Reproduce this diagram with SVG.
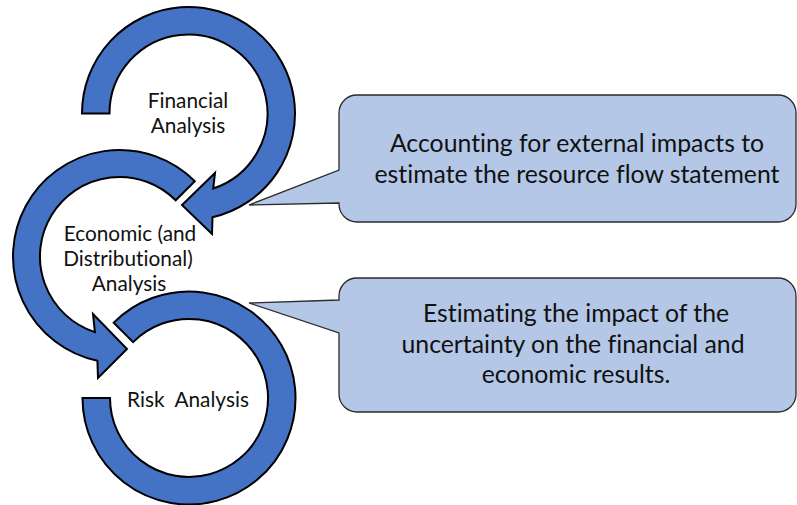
<svg xmlns="http://www.w3.org/2000/svg" width="797" height="505" viewBox="0 0 797 505">
  <style>
    .arrow { fill: #4472C4; stroke: #000000; stroke-width: 2; stroke-linejoin: miter; }
    .callout { fill: #B4C7E7; stroke: #2B2B2B; stroke-width: 1.3; stroke-linejoin: miter; }
    .lbl { font-family: Lato, "Liberation Sans", sans-serif; font-size: 20.8px; fill: #111111; text-anchor: middle; font-variant-ligatures: none; }
    .box { font-family: Lato, "Liberation Sans", sans-serif; font-size: 24.8px; fill: #111111; text-anchor: middle; font-variant-ligatures: none; }
  </style>
  <rect width="797" height="505" fill="#FFFFFF"/>

  <g id="connectors">
    <g id="callout-economic">
      <path class="callout" d="M357,95 H778 A18,18 0 0 1 796,113 V204 A18,18 0 0 1 778,222 H357 A18,18 0 0 1 339,204 V203 L249,205 L339,170 V113 A18,18 0 0 1 357,95 Z"/>
    </g>
    <g id="callout-risk">
      <path class="callout" d="M357,278 H778 A18,18 0 0 1 796,296 V394 A18,18 0 0 1 778,412 H357 A18,18 0 0 1 339,394 V333 L249,303 L339,300 V296 A18,18 0 0 1 357,278 Z"/>
    </g>
  </g>

  <g id="node-financial">
    <path class="arrow" d="M82,113.5 A106.5,106.5 0 1 1 212.5,217.3 L212,234 L182,205 L215,173 L213.2,188.5 A79,79 0 1 0 109.5,113.5 Z"/>
    <text class="lbl" x="188" y="108">Financial</text>
    <text class="lbl" x="188" y="133">Analysis</text>
  </g>

  <g id="node-economic">
    <path class="arrow" d="M194.8,181.2 A106.5,106.5 0 1 0 97.4,360.7 L98,378 L127,349 L93,314 L94.9,332.1 A79.5,79.5 0 1 1 175.7,200.3 Z"/>
    <text class="lbl" x="130" y="240.5">Economic (and</text>
    <text class="lbl" x="128" y="265.5">Distributional)</text>
    <text class="lbl" x="129" y="290.5">Analysis</text>
  </g>

  <g id="node-risk">
    <path class="arrow" d="M82.5,398 A106.5,106.5 0 1 0 113.7,322.7 L133.1,342.1 A79,79 0 1 1 110,398 Z"/>
    <text class="lbl" x="188" y="407" xml:space="preserve">Risk  Analysis</text>
  </g>

  <g id="node-text-economic">
    <text class="box" x="577" y="152">Accounting for external impacts to</text>
    <text class="box" x="577" y="183">estimate the resource flow statement</text>
  </g>

  <g id="node-text-risk">
    <text class="box" x="576" y="322">Estimating the impact of the</text>
    <text class="box" x="573" y="353">uncertainty on the financial and</text>
    <text class="box" x="576" y="383">economic results.</text>
  </g>
</svg>
